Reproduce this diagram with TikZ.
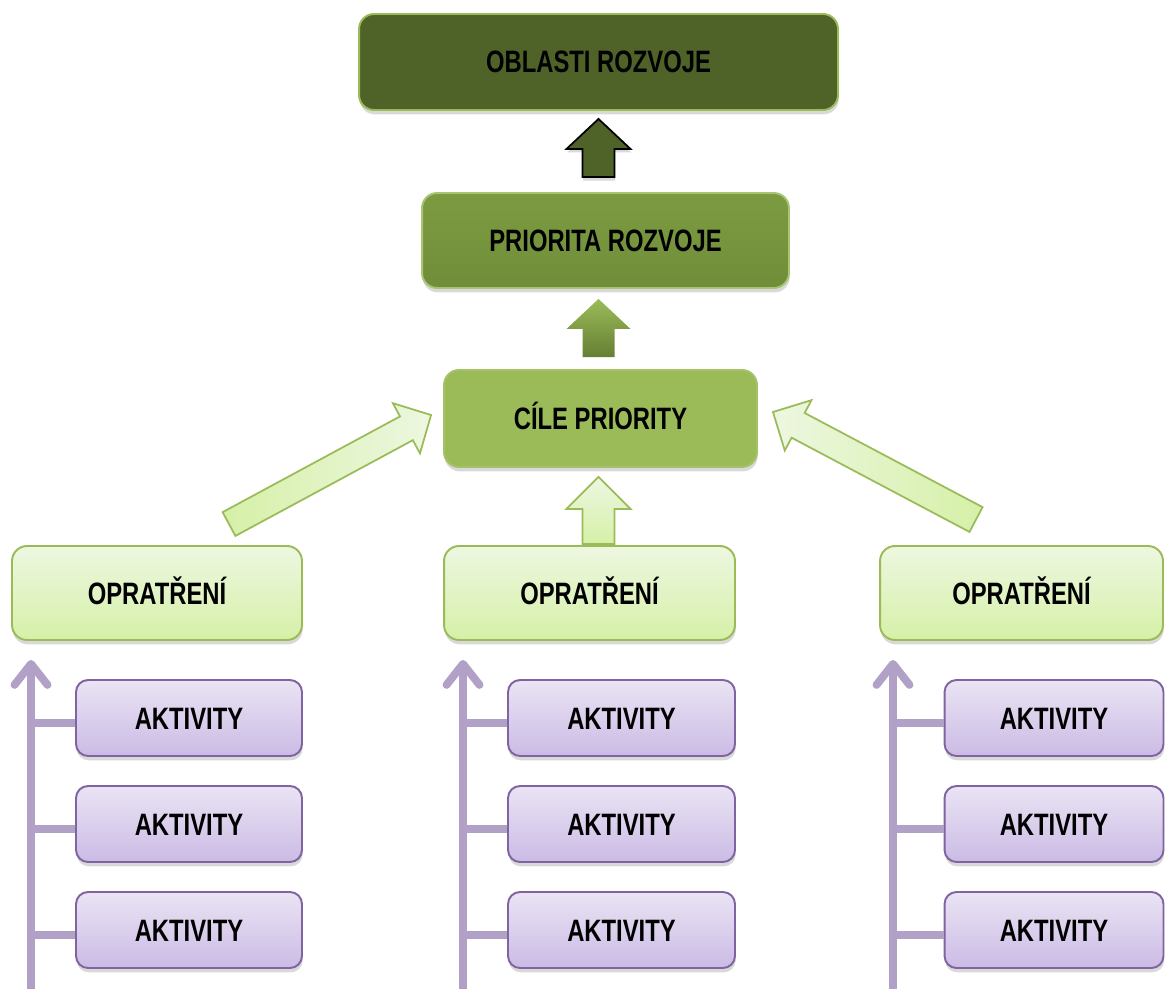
\documentclass[tikz,border=0pt]{standalone}
\usepackage{fontspec}
\setmainfont{Liberation Sans}[FakeStretch=0.77]
\usetikzlibrary{calc,shadows,arrows.meta}

\definecolor{oblfill}{HTML}{4F6228}
\definecolor{greenline}{HTML}{9BBB59}
\definecolor{priotop}{HTML}{7C9B41}
\definecolor{priobot}{HTML}{708E39}
\definecolor{cilefill}{HTML}{9BBB59}
\definecolor{optop}{HTML}{EDF7E1}
\definecolor{opbot}{HTML}{D6F0A7}
\definecolor{akttop}{HTML}{EAE4F4}
\definecolor{aktbot}{HTML}{CBBBE5}
\definecolor{aktline}{HTML}{8064A2}
\definecolor{vio}{HTML}{B2A1C7}

% block arrow: style, tail, tip, half shaft, half head, head length
\newcommand\fatarrow[6]{%
  \coordinate (fa-h) at ($(#3)!#6!(#2)$);
  \path[#1] ($(#2)!#4!90:(#3)$) -- ($(fa-h)!#4!90:(#3)$) -- ($(fa-h)!#5!90:(#3)$) -- (#3)
    -- ($(fa-h)!#5!-90:(#3)$) -- ($(fa-h)!#4!-90:(#3)$) -- ($(#2)!#4!-90:(#3)$) -- cycle;
}

\tikzset{
  box/.style={rounded corners=0.3cm, line width=1.1pt, inner sep=0pt,
    font=\fontsize{17.6}{20}\selectfont\bfseries, text height=0.44cm, text depth=0pt,
    drop shadow={opacity=0.3, shadow xshift=0.4pt, shadow yshift=-2.5pt}},
  oblbox/.style={box, fill=oblfill, draw=greenline, minimum width=9.58cm, minimum height=1.92cm},
  priobox/.style={box, top color=priotop, bottom color=priobot, draw=greenline!85!white,
    minimum width=7.34cm, minimum height=1.9cm},
  cilebox/.style={box, fill=cilefill, draw=cilefill!90!white, minimum width=6.26cm, minimum height=1.94cm},
  opbox/.style={box, top color=optop, bottom color=opbot, draw=greenline, minimum height=1.88cm},
  aktbox/.style={box, rounded corners=0.24cm, top color=akttop, bottom color=aktbot, draw=aktline,
    minimum height=1.52cm},
  vline/.style={draw=vio, line width=4.5pt},
  arr1/.style={fill=oblfill, draw=black, line width=1pt,
    drop shadow={opacity=0.3, shadow xshift=0.4pt, shadow yshift=-2pt}},
  arr2/.style={top color=cilefill, bottom color=priobot!90!black},
  arr3/.style={top color=optop, bottom color=opbot, draw=greenline, line width=1pt},
  diagl/.style={left color=opbot, right color=optop, draw=greenline, line width=1pt},
  diagr/.style={left color=optop, right color=opbot, draw=greenline, line width=1pt}
}

\begin{document}
\begin{tikzpicture}[x=0.02cm, y=-0.02cm]
\useasboundingbox (0,0) rectangle (1165,989);

\node[oblbox] (obl) at (598.5,62) {OBLASTI ROZVOJE};
\node[priobox] (prio) at (605.5,240.5) {PRIORITA ROZVOJE};
\node[cilebox] (cile) at (600.5,418.5) {CÍLE PRIORITY};

\foreach \c/\ox/\ow/\ax/\aw/\lx in {L/157/5.8/189/4.52/31, M/589.5/5.82/621.5/4.54/463, R/1021.5/5.66/1054/4.38/893}{
  \node[opbox, minimum width=\ow cm] (op\c) at (\ox,593) {OPRATŘENÍ};
  \coordinate (ln\c) at (\lx,989);
  \draw[vline, -{Straight Barb[length=0.42cm, width=0.66cm, round]}, line cap=round]
    (ln\c) -- ($(op\c.south -| ln\c)+(0,19)$);
  \foreach \y [count=\k] in {718,824,930}{
    \node[aktbox, minimum width=\aw cm] (akt\c\k) at (\ax,\y) {AKTIVITY};
    \draw[vline] ($(akt\c\k.west)+(0,5)$) -- ($(akt\c\k.west -| ln\c)+(0,5)$);
  }
}

% up arrows
\coordinate (a1s) at ($(prio.north -| obl.south)+(0,-15)$);
\coordinate (a1e) at ($(obl.south)+(0,8)$);
\fatarrow{arr1}{a1s}{a1e}{0.32cm}{0.64cm}{0.6cm}

\coordinate (a2s) at ($(cile.north -| obl.south)+(0,-12)$);
\coordinate (a2e) at ($(prio.south -| obl.south)+(0,10)$);
\fatarrow{arr2}{a2s}{a2e}{0.32cm}{0.64cm}{0.6cm}

\coordinate (a3s) at ($(opM.north -| obl.south)+(0,-1)$);
\coordinate (a3e) at ($(cile.south -| obl.south)+(0,9)$);
\fatarrow{arr3}{a3s}{a3e}{0.32cm}{0.64cm}{0.64cm}

% side arrows
\coordinate (dls) at ($(opL.north)+(72,-21)$);
\coordinate (dle) at ($(cile.west)+(-12,-3.5)$);
\fatarrow{diagl}{dls}{dle}{0.27cm}{0.57cm}{0.56cm}

\coordinate (drs) at ($(opR.north)+(-45.5,-25.5)$);
\coordinate (dre) at ($(cile.east)+(15,-6.5)$);
\fatarrow{diagr}{drs}{dre}{0.28cm}{0.57cm}{0.57cm}
\end{tikzpicture}
\end{document}
